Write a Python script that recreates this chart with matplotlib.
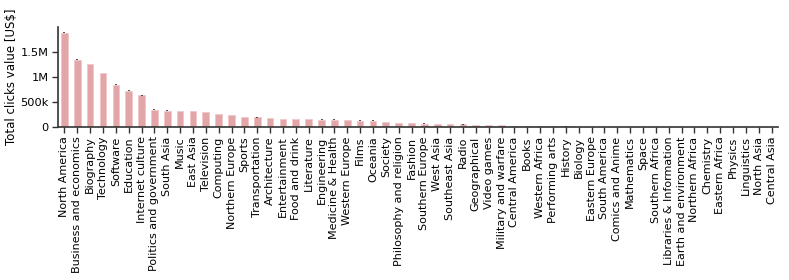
import matplotlib
matplotlib.use("Agg")
import matplotlib.pyplot as plt
import numpy as np
from matplotlib.ticker import FixedLocator, FixedFormatter

categories = [
    "North America", "Business and economics", "Biography", "Technology", "Software",
    "Education", "Internet culture", "Politics and government", "South Asia", "Music",
    "East Asia", "Television", "Computing", "Northern Europe", "Sports",
    "Transportation", "Architecture", "Entertainment", "Food and drink", "Literature",
    "Engineering", "Medicine & Health", "Western Europe", "Films", "Oceania",
    "Society", "Philosophy and religion", "Fashion", "Southern Europe", "West Asia",
    "Southeast Asia", "Radio", "Geographical", "Video games", "Military and warfare",
    "Central America", "Books", "Western Africa", "Performing arts", "History",
    "Biology", "Eastern Europe", "South America", "Comics and Anime", "Mathematics",
    "Space", "Southern Africa", "Libraries & Information", "Earth and environment",
    "Northern Africa", "Chemistry", "Eastern Africa", "Physics", "Linguistics",
    "North Asia", "Central Asia",
]

values = [
    1880e3, 1345e3, 1258e3, 1080e3, 848e3,
    730e3, 636e3, 352e3, 333e3, 330e3,
    325e3, 305e3, 272e3, 246e3, 202e3,
    198e3, 187e3, 173e3, 168e3, 162e3,
    155e3, 154e3, 140e3, 134e3, 134e3,
    112e3, 93e3, 80e3, 77e3, 66e3,
    60e3, 60e3, 48e3, 45e3, 40e3,
    33e3, 27e3, 25e3, 20e3, 18e3,
    16e3, 14e3, 12e3, 11e3, 9e3,
    8e3, 5e3, 4e3, 3e3, 3e3,
    2e3, 2e3, 1.5e3, 1e3, 0.8e3, 0.5e3,
]

errors = [
    9e3, 7e3, 6e3, 9e3, 8e3, 5e3, 5e3, 4e3, 4e3, 4e3,
    9e3, 4e3, 3e3, 3e3, 3e3, 6e3, 3e3, 3e3, 3e3, 3e3,
    3e3, 6e3, 3e3, 3e3, 6e3, 3e3, 2e3, 2e3, 2e3, 2e3,
    2e3, 5e3, 2e3, 2e3, 2e3, 2e3, 1e3, 1e3, 1e3, 1e3,
    1e3, 1e3, 1e3, 1e3, 1e3, 1e3, 1e3, 1e3, 1e3, 1e3,
    1e3, 1e3, 1e3, 1e3, 1e3, 1e3,
]

ytick_vals = [0, 500e3, 1000e3, 1500e3]
ytick_labels = ["0", "500k", "1M", "1.5M"]

plt.rcParams['font.family'] = ['DejaVu Sans']
fig = plt.figure(figsize=(7.89, 2.8), dpi=100)
ax = fig.add_axes([0.0735, 0.545, 0.9125, 0.36])

x = np.arange(len(categories))
ax.bar(x, values, width=0.52, color="#e3a6a8", edgecolor="#f0c4c6", linewidth=0.5,
       yerr=errors, error_kw=dict(ecolor="#333333", elinewidth=1.2, capsize=0))

ax.set_xlim(-0.5, len(categories) - 0.5)
ax.set_ylim(0, 2.0e6)
ax.yaxis.set_major_locator(FixedLocator(ytick_vals))
ax.yaxis.set_major_formatter(FixedFormatter(ytick_labels))
ax.set_xticks(x)
ax.set_xticklabels(categories, rotation=90, fontsize=8.0)
ax.tick_params(axis='y', labelsize=8.2, length=4.5, width=1, color="#333333", pad=2)
ax.tick_params(axis='x', length=4.5, width=1, color="#333333", pad=2)
ax.set_ylabel("Total clicks value [US$]", fontsize=8.5, labelpad=2)

for s in ["top", "right"]:
    ax.spines[s].set_visible(False)
for s in ["left", "bottom"]:
    ax.spines[s].set_color("#333333")
    ax.spines[s].set_linewidth(1.2)

fig.savefig("out.png", dpi=100)
